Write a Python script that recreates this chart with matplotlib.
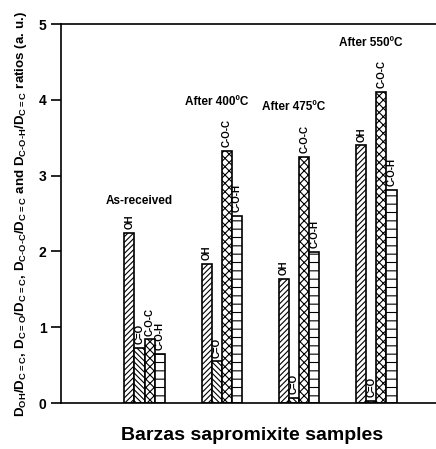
# %% Packages

import numpy as np
import matplotlib.pyplot as plt

plt.rcParams['font.family'] = ['Liberation Sans', 'DejaVu Sans']
plt.rcParams['font.weight'] = 'bold'
plt.rcParams['hatch.linewidth'] = 0.8
plt.rcParams['mathtext.fontset'] = 'custom'
plt.rcParams['mathtext.rm'] = 'Liberation Sans:bold'
plt.rcParams['mathtext.bf'] = 'Liberation Sans:bold'
plt.rcParams['mathtext.default'] = 'bf'

# %% Data

samples = ['As-received', 'After 400ºC', 'After 475ºC', 'After 550ºC']
bands = ['OH', 'C=O', 'C-O-C', 'C-O-H']
oh = [2.24, 1.84, 1.64, 3.40]
co = [0.73, 0.55, 0.07, 0.03]
coc = [0.84, 3.33, 3.25, 4.11]
coh = [0.65, 2.47, 1.99, 2.81]
hatches = ['//////', '\\\\\\\\\\\\', 'xxxx', '--']

# %% Plot

fig = plt.figure(figsize=(4.36, 4.49), dpi=100)
ax = fig.add_axes([0.140, 0.1024, 0.875, 0.844])

x = np.arange(len(samples))
w = 0.13
series = [oh, co, coc, coh]
for k, vals in enumerate(series):
    xk = x + (k - 1.5) * w
    ax.bar(xk, vals, width=w, facecolor='white', edgecolor='black',
           linewidth=1.2, hatch=hatches[k])
    for xi, v in zip(xk, vals):
        ax.text(xi, v + 0.05, bands[k], rotation=90, ha='center', va='bottom',
                fontsize=7, fontweight='bold')

# group labels above the tallest bar
lab_y = [2.67, 3.97, 3.91, 4.75]
for xi, s, yy in zip(x, samples, lab_y):
    ax.text(xi - 0.07, yy, s, ha='center', va='center', fontsize=8.5,
            fontweight='bold')

ax.set_xlim(-1.08, 3.855)
ax.set_ylim(0, 5)
ax.set_xticks([])
ax.set_yticks(range(6))
ax.tick_params(axis='y', direction='out', length=7, width=1.2, labelsize=10)
for lab in ax.get_yticklabels():
    lab.set_fontweight('bold')
ax.spines['right'].set_visible(False)
for sp in ['left', 'top', 'bottom']:
    ax.spines[sp].set_linewidth(1.2)

ylab = ('D$_{OH}$/D$_{C{=}C}$, D$_{C{=}O}$/D$_{C{=}C}$, '
        'D$_{C\\text{-}O\\text{-}C}$/D$_{C{=}C}$ and '
        'D$_{C\\text{-}O\\text{-}H}$/D$_{C{=}C}$ ratios (a. u.)')
ax.set_ylabel(ylab, fontsize=9.6, fontweight='bold', labelpad=7)
ax.set_xlabel('Barzas sapromixite samples', fontsize=14, fontweight='bold',
              labelpad=17)

fig.savefig('out.png', dpi=100)
